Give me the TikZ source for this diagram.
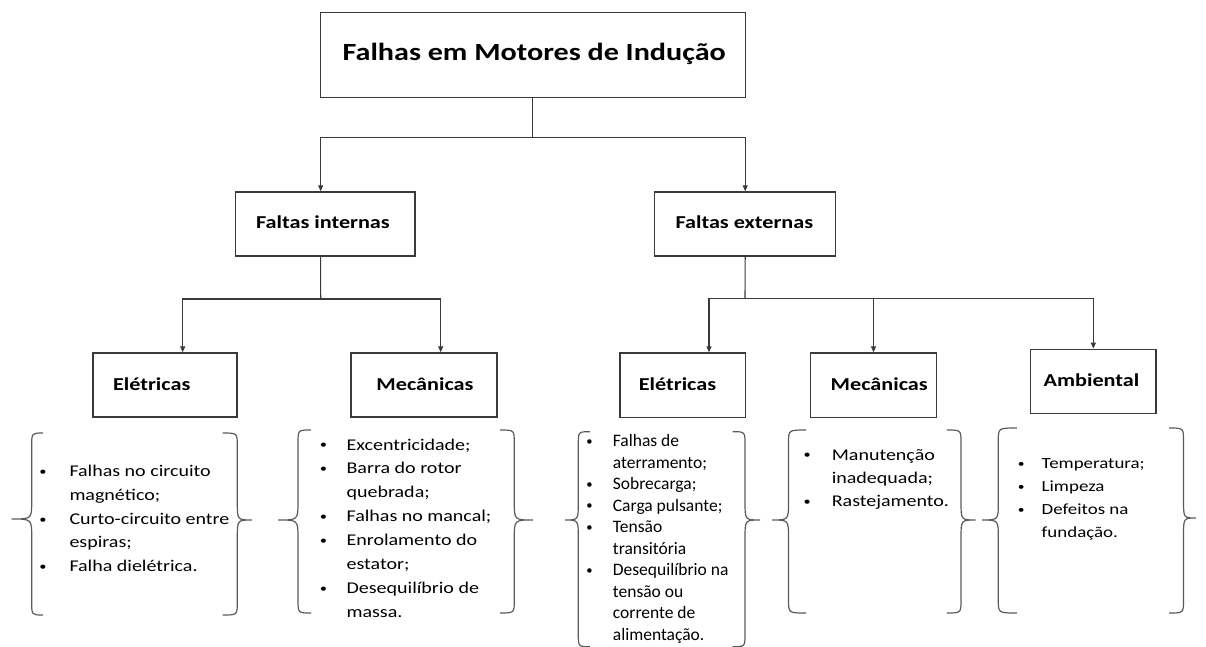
\documentclass[tikz,border=0pt]{standalone}
\usepackage{fontspec}
\setmainfont{Carlito}[FakeStretch=1.22]
\newfontfamily\narrowfont{Carlito}
\usetikzlibrary{arrows.meta}
\definecolor{lc}{HTML}{3A3A3A}
\definecolor{bc}{HTML}{5A5A5A}
\tikzset{
  box/.style={draw=lc, line width=1.4pt, rectangle, inner sep=0pt},
  lbl/.style={font=\bfseries\fontsize{18.2}{20}\selectfont, inner sep=0pt, anchor=base},
  ttl/.style={font=\bfseries\fontsize{24.7}{28}\selectfont, inner sep=0pt, anchor=base},
  conn/.style={draw=lc, line width=1.1pt},
  arr/.style={conn, -{Triangle[length=6pt,width=5pt]}},
  brc/.style={draw=bc, line width=1.2pt},
  lst/.style={inner sep=0pt, anchor=base west},
}
% xe xv xt y1 y2 ym rhook rtip
\newcommand\Brc[8]{%
  \draw[brc] (#1,#4) .. controls (#2,#4) .. (#2,{#4+#7}) -- (#2,{#6-#8})
    .. controls (#2,#6) .. (#3,#6) .. controls (#2,#6) .. (#2,{#6+#8})
    -- (#2,{#5-#7}) .. controls (#2,#5) .. (#1,#5);}
\newcommand\itm[1]{\leavevmode\llap{\makebox[#1][c]{\raisebox{0.07em}{\scalebox{0.72}{\textbullet}}}}}
\begin{document}
\begin{tikzpicture}[x=1pt,y=-1pt]
\useasboundingbox (0,0) rectangle (1206,647);
% boxes
\node[box, minimum width=425pt, minimum height=85.4pt] (top) at (533.2,55) {};
\node[ttl] (topt) at (534.2,60.5) {Falhas em Motores de Indução};
\node[box, minimum width=179.3pt, minimum height=64pt] (fi) at (325.35,224) {};
\node[lbl] (fit) at (322.9,228.3) {Faltas internas};
\node[box, minimum width=181pt, minimum height=64pt] (fe) at (745.2,224) {};
\node[lbl] (fet) at (744.3,228) {Faltas externas};
\node[box, minimum width=144pt, minimum height=64pt] (ei) at (165,385) {};
\node[lbl] (eit) at (151.7,390) {Elétricas};
\node[box, minimum width=146pt, minimum height=64pt] (mi) at (424,385) {};
\node[lbl] (mit) at (425,390) {Mecânicas};
\node[box, minimum width=125.7pt, minimum height=64.3pt] (ee) at (682.9,385.2) {};
\node[lbl] (eet) at (677.5,390) {Elétricas};
\node[box, minimum width=126.4pt, minimum height=64.3pt] (me) at (873.5,385.2) {};
\node[lbl] (met) at (879.2,390) {Mecânicas};
\node[box, minimum width=125.3pt, minimum height=64.4pt] (amb) at (1093.35,381.5) {};
\node[lbl] (ambt) at (1091.5,386.7) {Ambiental};
% connectors
\coordinate (j0) at (532.3,137.3);
\draw[conn] (top.south -| j0) -- (j0);
\draw[arr] (j0) -| ([xshift=-4.7pt]fi.north);
\draw[arr] (j0) -| (fe.north);
\coordinate (j1) at (320.7,299);
\draw[conn] ([xshift=-4.7pt]fi.south) -- (j1);
\draw[arr] (j1) -| ([xshift=17.7pt]ei.north);
\draw[arr] (j1) -| ([xshift=16.7pt]mi.north);
\coordinate (j2) at (745,298.3);
\draw[conn] (fe.south) -- (j2);
\draw[arr] (j2) -| ([xshift=26.1pt]ee.north);
\draw[arr] (j2) -| (me.north);
\draw[arr] (j2) -| (amb.north);
% braces
\Brc{43}{31.7}{11.7}{433}{615}{519}{13}{18}
\Brc{222.7}{237.3}{252}{433}{615}{520}{13}{18}
\Brc{311}{298}{278}{430}{613}{520}{13}{18}
\Brc{500}{514.3}{533}{430}{613}{520}{13}{18}
\Brc{590}{578.3}{565}{431.7}{646.7}{520}{13}{18}
\Brc{732.7}{745}{760}{431.7}{646.7}{520}{13}{18}
\Brc{806}{788.5}{772}{430}{613}{520}{13}{18}
\Brc{946.8}{961}{975.6}{430}{613}{520}{13}{18}
\Brc{1016.8}{998.3}{981.8}{428}{613}{520}{13}{18}
\Brc{1169}{1183.5}{1195.8}{428}{613}{518}{13}{18}
% lists
\node[lst] (l1) at (69.3,476.7) {\parbox[t]{200pt}{\fontsize{16.4}{23.75}\selectfont
  \itm{53.2pt}Falhas no circuito\\ magnético;\\ \itm{53.2pt}Curto-circuito entre\\ espiras;\\ \itm{53.2pt}Falha dielétrica.}};
\node[lst] (l2) at (346.4,450) {\parbox[t]{200pt}{\fontsize{16.4}{23.9}\selectfont
  \itm{46.4pt}Excentricidade;\\ \itm{46.4pt}Barra do rotor\\ quebrada;\\ \itm{46.4pt}Falhas no mancal;\\
  \itm{46.4pt}Enrolamento do\\ estator;\\ \itm{46.4pt}Desequilíbrio de\\ massa.}};
\node[lst] (l3) at (612.7,446.7) {\parbox[t]{200pt}{\narrowfont\fontsize{17.5}{21.5}\selectfont
  \itm{46.8pt}Falhas de\\ aterramento;\\ \itm{46.8pt}Sobrecarga;\\ \itm{46.8pt}Carga pulsante;\\
  \itm{46.8pt}Tensão\\ transitória\\ \itm{46.8pt}Desequilíbrio na\\ tensão ou\\ corrente de\\ alimentação.}};
\node[lst] (l4) at (831.6,460) {\parbox[t]{200pt}{\fontsize{16.4}{23.4}\selectfont
  \itm{49.2pt}Manutenção\\ inadequada;\\ \itm{49.2pt}Rastejamento.}};
\node[lst] (l5) at (1041.5,468.3) {\parbox[t]{200pt}{\fontsize{15.5}{23}\selectfont
  \itm{41pt}Temperatura;\\ \itm{41pt}Limpeza\\ \itm{41pt}Defeitos na\\ fundação.}};
\end{tikzpicture}
\end{document}
